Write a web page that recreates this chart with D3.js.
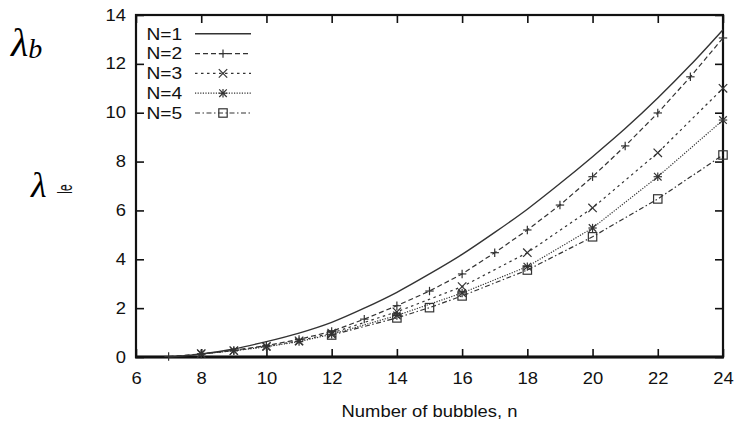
<!DOCTYPE html>
<html>
<head>
<meta charset="utf-8">
<script src="https://cdn.jsdelivr.net/npm/d3@7"></script>
<style>
  html, body { margin: 0; padding: 0; background: #fff; }
  svg { display: block; }
</style>
</head>
<body>
<svg id="chart" width="737" height="423"></svg>
<script>
// ---- data ----
const xTicks = [6, 8, 10, 12, 14, 16, 18, 20, 22, 24];
const yTicks = [0, 2, 4, 6, 8, 10, 12, 14];
const seriesNames = ["N=1", "N=2", "N=3", "N=4", "N=5"];

const n1 = [7, 8, 9, 10, 11, 12, 13, 14, 15, 16, 17, 18, 19, 20, 21, 22, 23, 24];
const v1 = [0.0, 0.12, 0.33, 0.63, 0.98, 1.42, 2.0, 2.65, 3.4, 4.2, 5.1, 6.05, 7.1, 8.2, 9.35, 10.6, 11.95, 13.4];

const n2 = [7, 8, 9, 10, 11, 12, 13, 14, 15, 16, 17, 18, 19, 20, 21, 22, 23, 24];
const v2 = [0.02, 0.12, 0.27, 0.47, 0.72, 1.05, 1.55, 2.1, 2.7, 3.4, 4.27, 5.2, 6.22, 7.38, 8.64, 9.99, 11.47, 13.06];

const n3 = [8, 9, 10, 11, 12, 14, 16, 18, 20, 22, 24];
const v3 = [0.14, 0.26, 0.44, 0.66, 0.98, 1.85, 2.88, 4.27, 6.1, 8.36, 11.0];

const n4 = [8, 9, 10, 11, 12, 14, 16, 18, 20, 22, 24];
const v4 = [0.13, 0.25, 0.42, 0.63, 0.93, 1.7, 2.62, 3.7, 5.28, 7.38, 9.7];

const n5 = [12, 14, 15, 16, 18, 20, 22, 24];
const v5 = [0.9, 1.6, 2.02, 2.5, 3.56, 4.92, 6.47, 8.27];

// ---- layout ----
const svg = d3.select("#chart");
const L = 136, R = 723, T = 15, B = 357;
const SX = 1.15; // horizontal stretch of the sans text
const ink = "#111";
const lineInk = "#333";
const sans = "'Liberation Sans', Arial, Helvetica, sans-serif";
const serif = "'Liberation Serif', 'Times New Roman', serif";

const x = d3.scaleLinear().domain([6, 24]).range([L, R]);
const y = d3.scaleLinear().domain([0, 14]).range([B, T]);

const series = [
  { name: seriesNames[0], n: n1, v: v1, dash: null, marker: null },
  { name: seriesNames[1], n: n2, v: v2, dash: "5,3", marker: "plus" },
  { name: seriesNames[2], n: n3, v: v3, dash: "2.5,3.5", marker: "cross" },
  { name: seriesNames[3], n: n4, v: v4, dash: "1.2,1.4", marker: "star" },
  { name: seriesNames[4], n: n5, v: v5, dash: "5,2.5,1.5,2.5", marker: "square" }
];

// ---- axes (inward ticks on all four sides) ----
function styleAxis(g) {
  g.select(".domain").remove();
  g.selectAll(".tick line").attr("stroke", ink).attr("stroke-width", 1.6);
  g.selectAll(".tick text")
    .attr("fill", ink)
    .style("font-family", sans)
    .style("font-size", "16px");
}

const gx = svg.append("g").attr("transform", `translate(0,${B})`)
  .call(d3.axisBottom(x).tickValues(xTicks).tickSize(-8).tickPadding(15.5).tickFormat(d3.format("d")))
  .call(styleAxis);
gx.selectAll(".tick text").attr("transform", `scale(${SX},1)`);

const gy = svg.append("g").attr("transform", `translate(${L},0)`)
  .call(d3.axisLeft(y).tickValues(yTicks).tickSize(-8).tickPadding(8.7).tickFormat(d3.format("d")))
  .call(styleAxis);
gy.selectAll(".tick text").attr("transform", `scale(${SX},1)`);

svg.append("g").attr("transform", `translate(0,${T})`)
  .call(d3.axisTop(x).tickValues(xTicks).tickSize(-8).tickFormat(""))
  .call(styleAxis);
svg.append("g").attr("transform", `translate(${R},0)`)
  .call(d3.axisRight(y).tickValues(yTicks).tickSize(-8).tickFormat(""))
  .call(styleAxis);

// ---- frame ----
svg.append("rect").attr("x", L).attr("y", T).attr("width", R - L).attr("height", B - T)
  .attr("fill", "none").attr("stroke", ink).attr("stroke-width", 2.2);
svg.append("line").attr("x1", L - 1).attr("x2", R + 1).attr("y1", B).attr("y2", B)
  .attr("stroke", ink).attr("stroke-width", 2.8);

// ---- markers ----
function drawMarker(g, type, cx, cy) {
  const s = 4.2;
  const st = { stroke: lineInk, "stroke-width": 1.2, fill: "none" };
  const seg = (x1, y1, x2, y2) => {
    const l = g.append("line").attr("x1", x1).attr("y1", y1).attr("x2", x2).attr("y2", y2);
    Object.entries(st).forEach(([k, v]) => l.attr(k, v));
  };
  if (type === "plus" || type === "star") {
    seg(cx - s, cy, cx + s, cy);
    seg(cx, cy - s, cx, cy + s);
  }
  if (type === "cross" || type === "star") {
    const c = type === "star" ? s * 0.9 : s;
    seg(cx - c, cy - c, cx + c, cy + c);
    seg(cx - c, cy + c, cx + c, cy - c);
  }
  if (type === "square") {
    const r = g.append("rect").attr("x", cx - s).attr("y", cy - s).attr("width", 2 * s).attr("height", 2 * s);
    Object.entries(st).forEach(([k, v]) => r.attr(k, v));
  }
}

// ---- lines ----
const line = d3.line().x(d => x(d[0])).y(d => y(d[1]));
const plot = svg.append("g");
series.forEach((s, i) => {
  const pts = s.n.map((n, j) => [n, s.v[j]]);
  const p = plot.append("path")
    .attr("d", (i === 0 ? line.curve(d3.curveMonotoneX) : line.curve(d3.curveLinear))(pts))
    .attr("fill", "none")
    .attr("stroke", lineInk)
    .attr("stroke-width", i === 0 ? 1.4 : 1.2);
  if (s.dash) p.attr("stroke-dasharray", s.dash);
  if (s.marker) pts.forEach(d => drawMarker(plot, s.marker, x(d[0]), y(d[1])));
});

// ---- legend ----
const leg = svg.append("g");
series.forEach((s, i) => {
  const cy = 33.8 + i * 19.8;
  leg.append("text")
    .attr("transform", `translate(146.5,${cy + 5.8}) scale(${SX + 0.05},1)`)
    .attr("fill", ink)
    .style("font-family", sans).style("font-size", "16px")
    .text(s.name);
  const l = leg.append("line").attr("x1", 195).attr("x2", 251).attr("y1", cy).attr("y2", cy)
    .attr("stroke", lineInk).attr("stroke-width", i === 0 ? 1.4 : 1.2);
  if (s.dash) l.attr("stroke-dasharray", s.dash);
  if (s.marker) drawMarker(leg, s.marker, 223, cy);
});

// ---- axis titles ----
svg.append("text")
  .attr("transform", `translate(${(L + R) / 2},416.5) scale(${SX},1)`)
  .attr("text-anchor", "middle")
  .attr("fill", ink)
  .style("font-family", sans).style("font-size", "16px")
  .text("Number of bubbles, n");

const lb = svg.append("text")
  .attr("x", 11).attr("y", 56)
  .attr("fill", "#000")
  .style("font-family", serif).style("font-style", "italic").style("font-size", "40px");
lb.append("tspan").text("λ");
lb.append("tspan").attr("dy", 2).style("font-size", "28px").text("b");

svg.append("text")
  .attr("x", 31).attr("y", 197)
  .attr("fill", "#000")
  .style("font-family", serif).style("font-style", "italic").style("font-size", "36px")
  .text("λ");

svg.append("text")
  .attr("transform", "translate(72,189) scale(1.7,1) rotate(-90)")
  .attr("text-anchor", "middle")
  .attr("fill", ink)
  .style("font-family", sans).style("font-size", "12px")
  .text("le");
</script>
</body>
</html>
